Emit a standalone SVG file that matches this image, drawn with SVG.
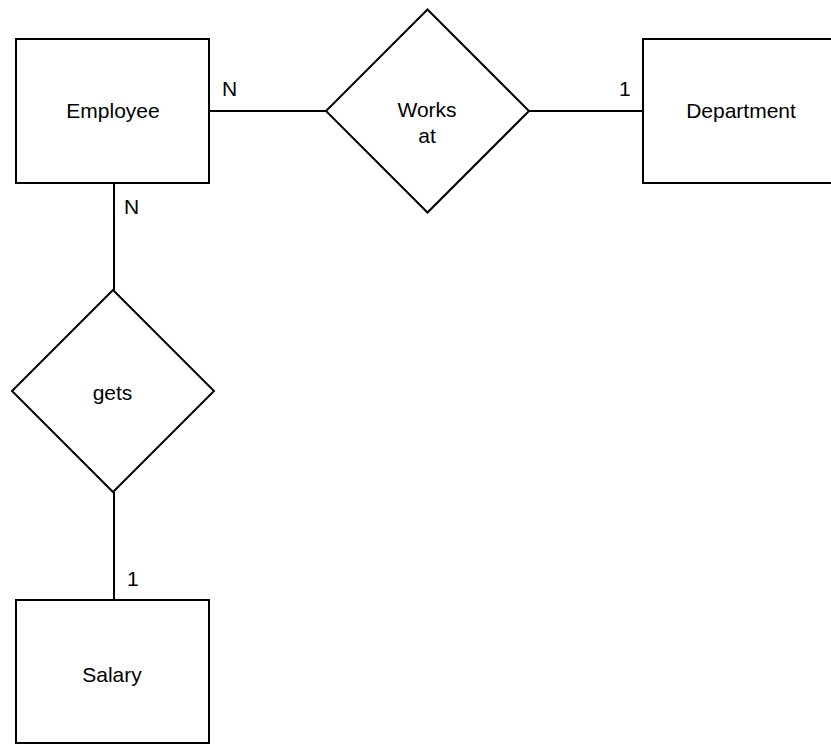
<svg xmlns="http://www.w3.org/2000/svg" width="831" height="744" viewBox="0 0 831 744">
  <style>
    .shape { fill: #ffffff; stroke: #000000; stroke-width: 2; }
    .edge { fill: none; stroke: #000000; stroke-width: 2; }
    .label { font-family: "Liberation Sans", Arial, sans-serif; font-size: 21px; fill: #000000; }
    .mid { text-anchor: middle; }
  </style>
  <rect width="831" height="744" fill="#ffffff"/>

  <!-- relationship lines with cardinalities -->
  <g id="connectors">
    <line class="edge" x1="209" y1="111" x2="326" y2="111"/>
    <line class="edge" x1="529" y1="111" x2="643" y2="111"/>
    <line class="edge" x1="114" y1="183" x2="114" y2="290"/>
    <line class="edge" x1="114" y1="492" x2="114" y2="600"/>
    <text class="label" x="222" y="96">N</text>
    <text class="label" x="619" y="96">1</text>
    <text class="label" x="124" y="214">N</text>
    <text class="label" x="127" y="586">1</text>
  </g>

  <g id="employee">
    <rect class="shape" x="16" y="39" width="193" height="144"/>
    <text class="label mid" x="113" y="118">Employee</text>
  </g>

  <g id="works-at">
    <polygon class="shape" points="427.5,9.5 529,111 427.5,212.5 326,111"/>
    <text class="label mid" x="427" y="117">Works</text>
    <text class="label mid" x="427" y="143">at</text>
  </g>

  <g id="department">
    <rect class="shape" x="643" y="39" width="193" height="144"/>
    <text class="label mid" x="741" y="118">Department</text>
  </g>

  <g id="gets">
    <polygon class="shape" points="113,290 214,391 113,492 12,391"/>
    <text class="label mid" x="112.5" y="400">gets</text>
  </g>

  <g id="salary">
    <rect class="shape" x="16" y="600" width="193" height="143"/>
    <text class="label mid" x="112" y="682">Salary</text>
  </g>
</svg>
